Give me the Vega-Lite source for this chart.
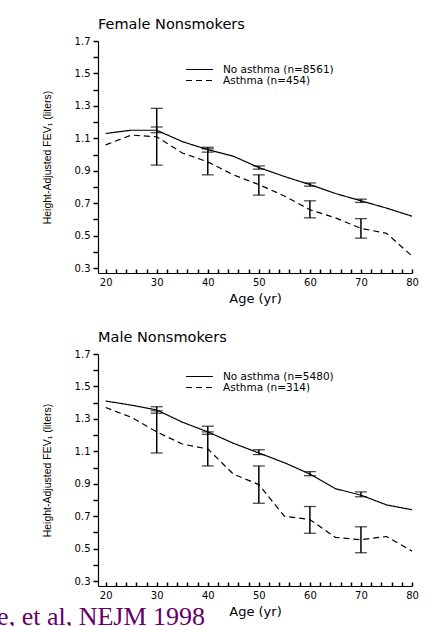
{
  "$schema": "https://vega.github.io/schema/vega-lite/v6.json",
  "background": "white",
  "padding": {"left": -3, "top": 16, "right": 0, "bottom": 0},
  "title": {"text": "e, et al, NEJM 1998", "orient": "bottom", "anchor": "start", "frame": "bounds", "font": "Liberation Serif", "fontSize": 26, "fontWeight": "normal", "color": "#660066", "offset": -14, "dx": -45},
  "config": {
    "view": {"stroke": null},
    "axis": {"grid": false, "ticks": true, "tickWidth": 1.5, "tickOpacity": 1, "domainWidth": 1.2, "domainColor": "black", "tickColor": "black", "labelColor": "black", "titleColor": "black", "labelFont": "DejaVu Sans", "labelFontSize": 10, "titleFontWeight": "normal", "labelOverlap": false, "labelFlush": false},
    "title": {"font": "DejaVu Sans", "fontSize": 14.5, "fontWeight": "normal", "color": "black"}
  },
  "datasets": {
    "lines": [
      {"sex": "F", "group": "No asthma (n=8561)", "age": 20, "fev": 1.13},
      {"sex": "F", "group": "No asthma (n=8561)", "age": 25, "fev": 1.15},
      {"sex": "F", "group": "No asthma (n=8561)", "age": 30, "fev": 1.15},
      {"sex": "F", "group": "No asthma (n=8561)", "age": 35, "fev": 1.08},
      {"sex": "F", "group": "No asthma (n=8561)", "age": 40, "fev": 1.03},
      {"sex": "F", "group": "No asthma (n=8561)", "age": 45, "fev": 0.99},
      {"sex": "F", "group": "No asthma (n=8561)", "age": 50, "fev": 0.92},
      {"sex": "F", "group": "No asthma (n=8561)", "age": 55, "fev": 0.865},
      {"sex": "F", "group": "No asthma (n=8561)", "age": 60, "fev": 0.815},
      {"sex": "F", "group": "No asthma (n=8561)", "age": 65, "fev": 0.76},
      {"sex": "F", "group": "No asthma (n=8561)", "age": 70, "fev": 0.715},
      {"sex": "F", "group": "No asthma (n=8561)", "age": 75, "fev": 0.67},
      {"sex": "F", "group": "No asthma (n=8561)", "age": 80, "fev": 0.62},
      {"sex": "F", "group": "Asthma (n=454)", "age": 20, "fev": 1.06},
      {"sex": "F", "group": "Asthma (n=454)", "age": 25, "fev": 1.12},
      {"sex": "F", "group": "Asthma (n=454)", "age": 30, "fev": 1.11},
      {"sex": "F", "group": "Asthma (n=454)", "age": 35, "fev": 1.01},
      {"sex": "F", "group": "Asthma (n=454)", "age": 40, "fev": 0.955},
      {"sex": "F", "group": "Asthma (n=454)", "age": 45, "fev": 0.875},
      {"sex": "F", "group": "Asthma (n=454)", "age": 50, "fev": 0.815},
      {"sex": "F", "group": "Asthma (n=454)", "age": 55, "fev": 0.745},
      {"sex": "F", "group": "Asthma (n=454)", "age": 60, "fev": 0.66},
      {"sex": "F", "group": "Asthma (n=454)", "age": 65, "fev": 0.61},
      {"sex": "F", "group": "Asthma (n=454)", "age": 70, "fev": 0.545},
      {"sex": "F", "group": "Asthma (n=454)", "age": 75, "fev": 0.515},
      {"sex": "F", "group": "Asthma (n=454)", "age": 80, "fev": 0.375},
      {"sex": "M", "group": "No asthma (n=5480)", "age": 20, "fev": 1.41},
      {"sex": "M", "group": "No asthma (n=5480)", "age": 25, "fev": 1.385},
      {"sex": "M", "group": "No asthma (n=5480)", "age": 30, "fev": 1.355},
      {"sex": "M", "group": "No asthma (n=5480)", "age": 35, "fev": 1.28},
      {"sex": "M", "group": "No asthma (n=5480)", "age": 40, "fev": 1.22},
      {"sex": "M", "group": "No asthma (n=5480)", "age": 45, "fev": 1.15},
      {"sex": "M", "group": "No asthma (n=5480)", "age": 50, "fev": 1.09},
      {"sex": "M", "group": "No asthma (n=5480)", "age": 55, "fev": 1.03},
      {"sex": "M", "group": "No asthma (n=5480)", "age": 60, "fev": 0.96},
      {"sex": "M", "group": "No asthma (n=5480)", "age": 65, "fev": 0.87},
      {"sex": "M", "group": "No asthma (n=5480)", "age": 70, "fev": 0.83},
      {"sex": "M", "group": "No asthma (n=5480)", "age": 75, "fev": 0.77},
      {"sex": "M", "group": "No asthma (n=5480)", "age": 80, "fev": 0.74},
      {"sex": "M", "group": "Asthma (n=314)", "age": 20, "fev": 1.37},
      {"sex": "M", "group": "Asthma (n=314)", "age": 25, "fev": 1.31},
      {"sex": "M", "group": "Asthma (n=314)", "age": 30, "fev": 1.22},
      {"sex": "M", "group": "Asthma (n=314)", "age": 35, "fev": 1.145},
      {"sex": "M", "group": "Asthma (n=314)", "age": 40, "fev": 1.115},
      {"sex": "M", "group": "Asthma (n=314)", "age": 45, "fev": 0.96},
      {"sex": "M", "group": "Asthma (n=314)", "age": 50, "fev": 0.895},
      {"sex": "M", "group": "Asthma (n=314)", "age": 55, "fev": 0.7},
      {"sex": "M", "group": "Asthma (n=314)", "age": 60, "fev": 0.68},
      {"sex": "M", "group": "Asthma (n=314)", "age": 65, "fev": 0.57},
      {"sex": "M", "group": "Asthma (n=314)", "age": 70, "fev": 0.555},
      {"sex": "M", "group": "Asthma (n=314)", "age": 75, "fev": 0.575},
      {"sex": "M", "group": "Asthma (n=314)", "age": 80, "fev": 0.485}
    ],
    "errs": [
      {"sex": "F", "age": 30, "lo": 1.135, "hi": 1.17},
      {"sex": "F", "age": 40, "lo": 1.015, "hi": 1.045},
      {"sex": "F", "age": 50, "lo": 0.91, "hi": 0.93},
      {"sex": "F", "age": 60, "lo": 0.805, "hi": 0.825},
      {"sex": "F", "age": 70, "lo": 0.705, "hi": 0.725},
      {"sex": "F", "age": 30, "lo": 0.935, "hi": 1.285},
      {"sex": "F", "age": 40, "lo": 0.875, "hi": 1.035},
      {"sex": "F", "age": 50, "lo": 0.75, "hi": 0.875},
      {"sex": "F", "age": 60, "lo": 0.61, "hi": 0.715},
      {"sex": "F", "age": 70, "lo": 0.485, "hi": 0.605},
      {"sex": "M", "age": 30, "lo": 1.335, "hi": 1.375},
      {"sex": "M", "age": 40, "lo": 1.205, "hi": 1.255},
      {"sex": "M", "age": 50, "lo": 1.08, "hi": 1.11},
      {"sex": "M", "age": 60, "lo": 0.95, "hi": 0.975},
      {"sex": "M", "age": 70, "lo": 0.82, "hi": 0.85},
      {"sex": "M", "age": 30, "lo": 1.09, "hi": 1.35},
      {"sex": "M", "age": 40, "lo": 1.01, "hi": 1.22},
      {"sex": "M", "age": 50, "lo": 0.78, "hi": 1.01},
      {"sex": "M", "age": 60, "lo": 0.595, "hi": 0.76},
      {"sex": "M", "age": 70, "lo": 0.475, "hi": 0.635}
    ]
  },
  "resolve": {"scale": {"strokeDash": "independent"}, "legend": {"strokeDash": "independent"}},
  "spacing": 24,
  "vconcat": [
    {
      "width": 314,
      "height": 232,
      "title": {"text": "Female Nonsmokers", "anchor": "start", "frame": "group", "offset": 4},
      "layer": [
        {
          "data": {"name": "lines"},
          "transform": [{"filter": "datum.sex === 'F'"}],
          "mark": {"type": "line", "color": "black", "strokeWidth": 1.2},
          "encoding": {
            "x": {"field": "age", "type": "quantitative", "scale": {"domain": [18.5, 80], "nice": false, "zero": false},
              "axis": {"title": "Age (yr)", "values": [20,22,24,26,28,30,32,34,36,38,40,42,44,46,48,50,52,54,56,58,60,62,64,66,68,70,72,74,76,78,80], "tickCount": 100, "labelExpr": "datum.value % 10 === 0 ? format(datum.value, 'd') : ''", "labelOverlap": false, "ticks": true, "tickColor": "black", "tickSize": -4, "labelPadding": 8, "titlePadding": 5, "titleFont": "DejaVu Sans", "titleFontSize": 13}},
            "y": {"field": "fev", "type": "quantitative", "scale": {"domain": [0.27, 1.7], "nice": false, "zero": false},
              "axis": {"title": "Height-Adjusted FEV₁ (liters)", "values": [0.3,0.4,0.5,0.6,0.7,0.8,0.9,1.0,1.1,1.2,1.3,1.4,1.5,1.6,1.7], "tickCount": 100, "labelExpr": "round(datum.value*10) % 2 === 1 ? format(datum.value, '.1f') : ''", "labelOverlap": false, "ticks": true, "tickColor": "black", "tickSize": 5, "labelPadding": 3, "titlePadding": 22, "titleFont": "Liberation Sans", "titleFontSize": 10.5}},
            "strokeDash": {"field": "group", "type": "nominal", "scale": {"domain": ["No asthma (n=8561)", "Asthma (n=454)"], "range": [[1, 0], [6, 4]]},
              "legend": {"orient": "none", "legendX": 96, "legendY": 23, "title": null, "symbolType": "M-3,0H3", "symbolSize": 81, "symbolStrokeColor": "black", "symbolStrokeWidth": 1.1, "labelFont": "DejaVu Sans", "labelFontSize": 10.5, "labelOffset": 18, "rowPadding": -8}}
          }
        },
        {
          "data": {"name": "errs"},
          "transform": [{"filter": "datum.sex === 'F'"}],
          "mark": {"type": "rule", "color": "black", "strokeWidth": 1.5},
          "encoding": {
            "x": {"field": "age", "type": "quantitative", "title": "Age (yr)"},
            "y": {"field": "lo", "type": "quantitative", "title": "Height-Adjusted FEV₁ (liters)"},
            "y2": {"field": "hi"}
          }
        },
        {
          "data": {"name": "errs"},
          "transform": [{"filter": "datum.sex === 'F'"}],
          "mark": {"type": "tick", "color": "black", "orient": "horizontal", "size": 12, "thickness": 1.3},
          "encoding": {
            "x": {"field": "age", "type": "quantitative", "title": "Age (yr)"},
            "y": {"field": "lo", "type": "quantitative", "title": "Height-Adjusted FEV₁ (liters)"}
          }
        },
        {
          "data": {"name": "errs"},
          "transform": [{"filter": "datum.sex === 'F'"}],
          "mark": {"type": "tick", "color": "black", "orient": "horizontal", "size": 12, "thickness": 1.3},
          "encoding": {
            "x": {"field": "age", "type": "quantitative", "title": "Age (yr)"},
            "y": {"field": "hi", "type": "quantitative", "title": "Height-Adjusted FEV₁ (liters)"}
          }
        }
      ]
    },
    {
      "width": 314,
      "height": 232,
      "title": {"text": "Male Nonsmokers", "anchor": "start", "frame": "group", "offset": 4},
      "layer": [
        {
          "data": {"name": "lines"},
          "transform": [{"filter": "datum.sex === 'M'"}],
          "mark": {"type": "line", "color": "black", "strokeWidth": 1.2},
          "encoding": {
            "x": {"field": "age", "type": "quantitative", "scale": {"domain": [18.5, 80], "nice": false, "zero": false},
              "axis": {"title": "Age (yr)", "values": [20,22,24,26,28,30,32,34,36,38,40,42,44,46,48,50,52,54,56,58,60,62,64,66,68,70,72,74,76,78,80], "tickCount": 100, "labelExpr": "datum.value % 10 === 0 ? format(datum.value, 'd') : ''", "labelOverlap": false, "ticks": true, "tickColor": "black", "tickSize": -4, "labelPadding": 8, "titlePadding": 5, "titleFont": "DejaVu Sans", "titleFontSize": 13}},
            "y": {"field": "fev", "type": "quantitative", "scale": {"domain": [0.27, 1.7], "nice": false, "zero": false},
              "axis": {"title": "Height-Adjusted FEV₁ (liters)", "values": [0.3,0.4,0.5,0.6,0.7,0.8,0.9,1.0,1.1,1.2,1.3,1.4,1.5,1.6,1.7], "tickCount": 100, "labelExpr": "round(datum.value*10) % 2 === 1 ? format(datum.value, '.1f') : ''", "labelOverlap": false, "ticks": true, "tickColor": "black", "tickSize": 5, "labelPadding": 3, "titlePadding": 22, "titleFont": "Liberation Sans", "titleFontSize": 10.5}},
            "strokeDash": {"field": "group", "type": "nominal", "scale": {"domain": ["No asthma (n=5480)", "Asthma (n=314)"], "range": [[1, 0], [6, 4]]},
              "legend": {"orient": "none", "legendX": 96, "legendY": 17, "title": null, "symbolType": "M-3,0H3", "symbolSize": 81, "symbolStrokeColor": "black", "symbolStrokeWidth": 1.1, "labelFont": "DejaVu Sans", "labelFontSize": 10.5, "labelOffset": 18, "rowPadding": -8}}
          }
        },
        {
          "data": {"name": "errs"},
          "transform": [{"filter": "datum.sex === 'M'"}],
          "mark": {"type": "rule", "color": "black", "strokeWidth": 1.5},
          "encoding": {
            "x": {"field": "age", "type": "quantitative", "title": "Age (yr)"},
            "y": {"field": "lo", "type": "quantitative", "title": "Height-Adjusted FEV₁ (liters)"},
            "y2": {"field": "hi"}
          }
        },
        {
          "data": {"name": "errs"},
          "transform": [{"filter": "datum.sex === 'M'"}],
          "mark": {"type": "tick", "color": "black", "orient": "horizontal", "size": 12, "thickness": 1.3},
          "encoding": {
            "x": {"field": "age", "type": "quantitative", "title": "Age (yr)"},
            "y": {"field": "lo", "type": "quantitative", "title": "Height-Adjusted FEV₁ (liters)"}
          }
        },
        {
          "data": {"name": "errs"},
          "transform": [{"filter": "datum.sex === 'M'"}],
          "mark": {"type": "tick", "color": "black", "orient": "horizontal", "size": 12, "thickness": 1.3},
          "encoding": {
            "x": {"field": "age", "type": "quantitative", "title": "Age (yr)"},
            "y": {"field": "hi", "type": "quantitative", "title": "Height-Adjusted FEV₁ (liters)"}
          }
        }
      ]
    }
  ]
}
